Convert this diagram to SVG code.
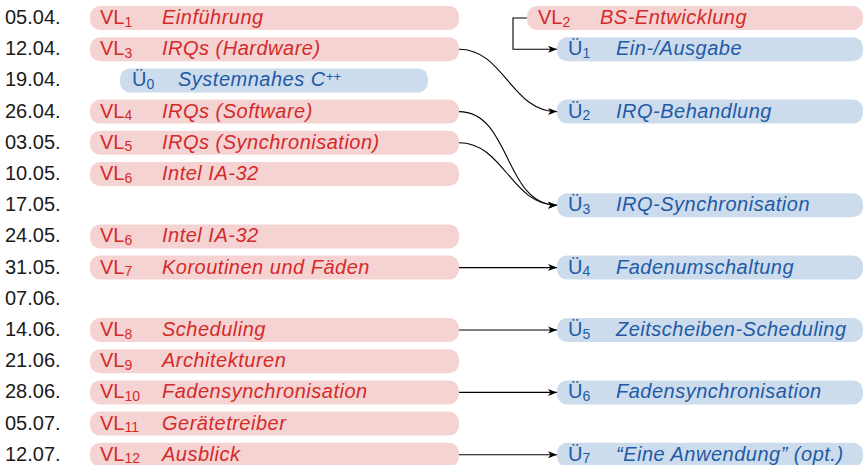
<svg xmlns="http://www.w3.org/2000/svg" width="865" height="465" viewBox="0 0 865 465">
<style>
text{font-family:"Liberation Sans",Arial,sans-serif;font-size:20px}
.d{fill:#1a1a1a}
.vl rect{fill:#f5d3d3}
.vl text{fill:#d42a2a}
.ue rect{fill:#ccdcec}
.ue text{fill:#1f5aa6}
.t{font-style:italic;letter-spacing:0.5px}
.s{font-size:14px}
.c path{fill:none;stroke:#000;stroke-width:1.1}
</style>
<defs>
<marker id="ah" markerUnits="userSpaceOnUse" markerWidth="10" markerHeight="8" refX="9" refY="4" orient="auto">
<path d="M0,0.5 L9,4 L0,7.5 L2.5,4 Z" fill="#000"/>
</marker>
</defs>
<g id="dates" class="d">
<text class="d" x="5" y="24">05.04.</text>
<text class="d" x="5" y="55.2">12.04.</text>
<text class="d" x="5" y="86.4">19.04.</text>
<text class="d" x="5" y="117.6">26.04.</text>
<text class="d" x="5" y="148.8">03.05.</text>
<text class="d" x="5" y="180">10.05.</text>
<text class="d" x="5" y="211.2">17.05.</text>
<text class="d" x="5" y="242.4">24.05.</text>
<text class="d" x="5" y="273.6">31.05.</text>
<text class="d" x="5" y="304.8">07.06.</text>
<text class="d" x="5" y="336">14.06.</text>
<text class="d" x="5" y="367.2">21.06.</text>
<text class="d" x="5" y="398.4">28.06.</text>
<text class="d" x="5" y="429.6">05.07.</text>
<text class="d" x="5" y="460.8">12.07.</text>
</g>
<g id="vl1" class="vl"><rect x="90" y="6" width="369" height="24" rx="10"/><text x="100" y="24">VL<tspan class="s" dy="2.5">1</tspan></text><text class="t" x="162" y="24">Einführung</text></g>
<g id="vl3" class="vl"><rect x="90" y="37.2" width="369" height="24" rx="10"/><text x="100" y="55.2">VL<tspan class="s" dy="2.5">3</tspan></text><text class="t" x="162" y="55.2">IRQs (Hardware)</text></g>
<g id="ue0" class="ue"><rect x="120" y="68.4" width="308" height="24" rx="10"/><text x="132" y="86.4">Ü<tspan class="s" dy="2.5">0</tspan></text><text class="t" x="178" y="86.4">Systemnahes C<tspan font-size="13" dy="-5" letter-spacing="0">++</tspan></text></g>
<g id="vl4" class="vl"><rect x="90" y="99.6" width="369" height="24" rx="10"/><text x="100" y="117.6">VL<tspan class="s" dy="2.5">4</tspan></text><text class="t" x="162" y="117.6">IRQs (Software)</text></g>
<g id="vl5" class="vl"><rect x="90" y="130.8" width="369" height="24" rx="10"/><text x="100" y="148.8">VL<tspan class="s" dy="2.5">5</tspan></text><text class="t" x="162" y="148.8">IRQs (Synchronisation)</text></g>
<g id="vl6a" class="vl"><rect x="90" y="162" width="369" height="24" rx="10"/><text x="100" y="180">VL<tspan class="s" dy="2.5">6</tspan></text><text class="t" x="162" y="180">Intel IA-32</text></g>
<g id="vl6b" class="vl"><rect x="90" y="224.4" width="369" height="24" rx="10"/><text x="100" y="242.4">VL<tspan class="s" dy="2.5">6</tspan></text><text class="t" x="162" y="242.4">Intel IA-32</text></g>
<g id="vl7" class="vl"><rect x="90" y="255.6" width="369" height="24" rx="10"/><text x="100" y="273.6">VL<tspan class="s" dy="2.5">7</tspan></text><text class="t" x="162" y="273.6">Koroutinen und Fäden</text></g>
<g id="vl8" class="vl"><rect x="90" y="318" width="369" height="24" rx="10"/><text x="100" y="336">VL<tspan class="s" dy="2.5">8</tspan></text><text class="t" x="162" y="336">Scheduling</text></g>
<g id="vl9" class="vl"><rect x="90" y="349.2" width="369" height="24" rx="10"/><text x="100" y="367.2">VL<tspan class="s" dy="2.5">9</tspan></text><text class="t" x="162" y="367.2">Architekturen</text></g>
<g id="vl10" class="vl"><rect x="90" y="380.4" width="369" height="24" rx="10"/><text x="100" y="398.4">VL<tspan class="s" dy="2.5">10</tspan></text><text class="t" x="162" y="398.4">Fadensynchronisation</text></g>
<g id="vl11" class="vl"><rect x="90" y="411.6" width="369" height="24" rx="10"/><text x="100" y="429.6">VL<tspan class="s" dy="2.5">11</tspan></text><text class="t" x="162" y="429.6">Gerätetreiber</text></g>
<g id="vl12" class="vl"><rect x="90" y="442.8" width="369" height="24" rx="10"/><text x="100" y="460.8">VL<tspan class="s" dy="2">12</tspan></text><text class="t" x="162" y="460.8">Ausblick</text></g>
<g id="vl2" class="vl"><rect x="527" y="6" width="336" height="24" rx="10"/><text x="538" y="24">VL<tspan class="s" dy="2.5">2</tspan></text><text class="t" x="600" y="24">BS-Entwicklung</text></g>
<g id="ue1" class="ue"><rect x="557" y="37.2" width="306" height="24" rx="10"/><text x="568" y="55.2">Ü<tspan class="s" dy="2.5">1</tspan></text><text class="t" x="616" y="55.2">Ein-/Ausgabe</text></g>
<g id="ue2" class="ue"><rect x="557" y="99.6" width="306" height="24" rx="10"/><text x="568" y="117.6">Ü<tspan class="s" dy="2.5">2</tspan></text><text class="t" x="616" y="117.6">IRQ-Behandlung</text></g>
<g id="ue3" class="ue"><rect x="557" y="193.2" width="306" height="24" rx="10"/><text x="568" y="211.2">Ü<tspan class="s" dy="2.5">3</tspan></text><text class="t" x="616" y="211.2">IRQ-Synchronisation</text></g>
<g id="ue4" class="ue"><rect x="557" y="255.6" width="306" height="24" rx="10"/><text x="568" y="273.6">Ü<tspan class="s" dy="2.5">4</tspan></text><text class="t" x="616" y="273.6">Fadenumschaltung</text></g>
<g id="ue5" class="ue"><rect x="557" y="318" width="306" height="24" rx="10"/><text x="568" y="336">Ü<tspan class="s" dy="2.5">5</tspan></text><text class="t" x="616" y="336">Zeitscheiben-Scheduling</text></g>
<g id="ue6" class="ue"><rect x="557" y="380.4" width="306" height="24" rx="10"/><text x="568" y="398.4">Ü<tspan class="s" dy="2.5">6</tspan></text><text class="t" x="616" y="398.4">Fadensynchronisation</text></g>
<g id="ue7" class="ue"><rect x="557" y="442.8" width="306" height="24" rx="10"/><text x="568" y="460.8">Ü<tspan class="s" dy="2">7</tspan></text><text class="t" x="616" y="460.8">“Eine Anwendung” (opt.)</text></g>
<g id="connectors" class="c">
<path d="M527,18 H513 V49.2 H557" marker-end="url(#ah)"/>
<path d="M459,49.2 C504,49.2 511,111.6 557,111.6" marker-end="url(#ah)"/>
<path d="M459,111.6 C511,111.6 504,205.2 557,205.2" marker-end="url(#ah)"/>
<path d="M459,142.8 C504,142.8 511,205.2 557,205.2" marker-end="url(#ah)"/>
<path d="M459,267.6 H557" marker-end="url(#ah)"/>
<path d="M459,330 H557" marker-end="url(#ah)"/>
<path d="M459,392.4 H557" marker-end="url(#ah)"/>
<path d="M459,454.8 H557" marker-end="url(#ah)"/>
</g>
</svg>
